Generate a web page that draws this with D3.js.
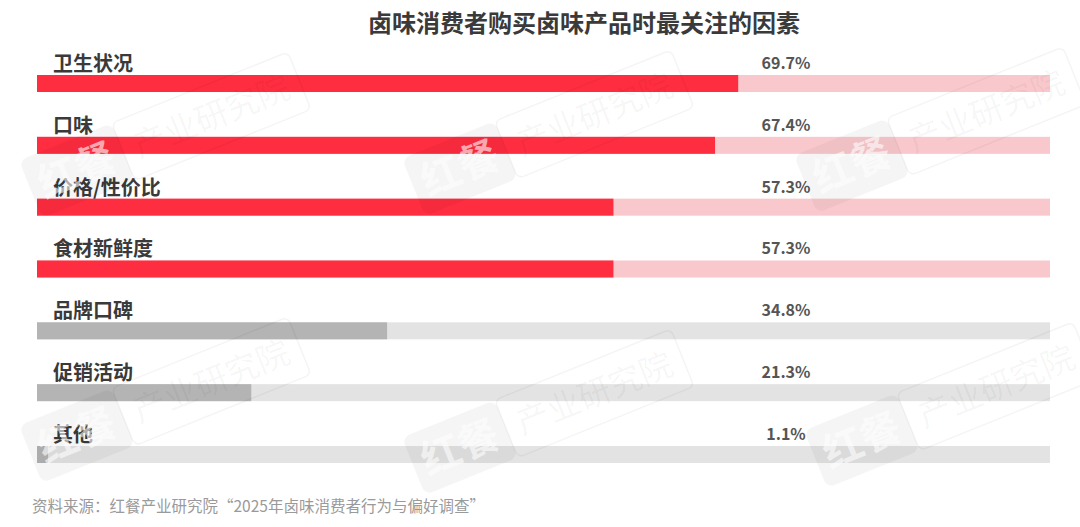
<!DOCTYPE html>
<html>
<head>
<meta charset="utf-8">
<script src="https://cdn.jsdelivr.net/npm/d3@7/dist/d3.min.js"></script>
<style>
  html, body { margin: 0; padding: 0; background: #fff; }
  svg { display: block; }
  text { font-family: "Noto Sans CJK SC", "Noto Sans", sans-serif; }
</style>
</head>
<body>
<svg id="chart" width="1080" height="527"></svg>
<script>
const title = "卤味消费者购买卤味产品时最关注的因素";
const categories = ["卫生状况", "口味", "价格/性价比", "食材新鲜度", "品牌口碑", "促销活动", "其他"];
const values = [69.7, 67.4, 57.3, 57.3, 34.8, 21.3, 1.1];
const highlighted = [true, true, true, true, false, false, false];
const source = "资料来源：红餐产业研究院“2025年卤味消费者行为与偏好调查”";
const watermarkBrand = "红餐";
const watermarkName = "产业研究院";

const svg = d3.select("#chart");

const x = d3.scaleLinear().domain([0, 100]).range([37, 1043]);
const trackEnd = 1050;
const y = d3.scaleBand().domain(categories).range([75, 463]).paddingInner(0.725).paddingOuter(0).align(0);

const colors = {
  hiFill: "#FF2D40", hiTrack: "#F9C8CC",
  loFill: "#B4B4B4", loTrack: "#E3E3E3",
  label: "#3a3a3a", value: "#555555", source: "#9a9a9a", title: "#3a3a3a"
};

// Title
svg.append("text")
  .attr("x", 584).attr("y", 32)
  .attr("text-anchor", "middle")
  .attr("font-size", 24).attr("font-weight", 700)
  .attr("fill", colors.title)
  .text(title);

const rows = svg.append("g").selectAll("g")
  .data(categories.map((c, i) => ({ c, v: values[i], hi: highlighted[i] })))
  .join("g");

// Track
rows.append("rect")
  .attr("x", x(0)).attr("y", d => y(d.c))
  .attr("width", trackEnd - x(0)).attr("height", y.bandwidth())
  .attr("fill", d => d.hi ? colors.hiTrack : colors.loTrack);

// Value bar
rows.append("rect")
  .attr("x", x(0)).attr("y", d => y(d.c))
  .attr("width", d => x(d.v) - x(0)).attr("height", y.bandwidth())
  .attr("fill", d => d.hi ? colors.hiFill : colors.loFill);

// Category labels
rows.append("text")
  .attr("x", 53).attr("y", d => y(d.c) - 4)
  .attr("font-size", 20).attr("font-weight", 700)
  .attr("fill", colors.label)
  .text(d => d.c);

// Value labels
rows.append("text")
  .attr("x", 786).attr("y", d => y(d.c) - 6)
  .attr("text-anchor", "middle")
  .attr("font-size", 16).attr("font-weight", 700)
  .attr("fill", colors.value)
  .text(d => d.v.toFixed(1) + "%");

// Source
svg.append("text")
  .attr("x", 32).attr("y", 512)
  .attr("font-size", 15.5)
  .attr("fill", colors.source)
  .text(source);

// Watermarks
const wmPos = [[165, 135], [548, 133], [940, 130], [165, 400], [548, 412], [950, 405]];
const wm = svg.append("g").attr("pointer-events", "none");
wmPos.forEach(([cx, cy]) => {
  const g = wm.append("g").attr("transform", `translate(${cx},${cy}) rotate(-22)`);
  g.append("rect").attr("x", -145).attr("y", -31).attr("width", 100).attr("height", 62)
    .attr("rx", 8).attr("fill", "#000").attr("fill-opacity", 0.04);
  g.append("text").attr("x", -95).attr("y", 14).attr("text-anchor", "middle")
    .attr("font-size", 40).attr("font-weight", 700)
    .attr("fill", "#fff").attr("fill-opacity", 0.6).text(watermarkBrand);
  g.append("rect").attr("x", -45).attr("y", -31).attr("width", 190).attr("height", 62)
    .attr("rx", 6).attr("fill", "none").attr("stroke", "#000").attr("stroke-opacity", 0.045).attr("stroke-width", 1.5);
  g.append("text").attr("x", 50).attr("y", 12).attr("text-anchor", "middle")
    .attr("font-size", 33)
    .attr("fill", "#000").attr("fill-opacity", 0.045).text(watermarkName);
});
</script>
</body>
</html>
